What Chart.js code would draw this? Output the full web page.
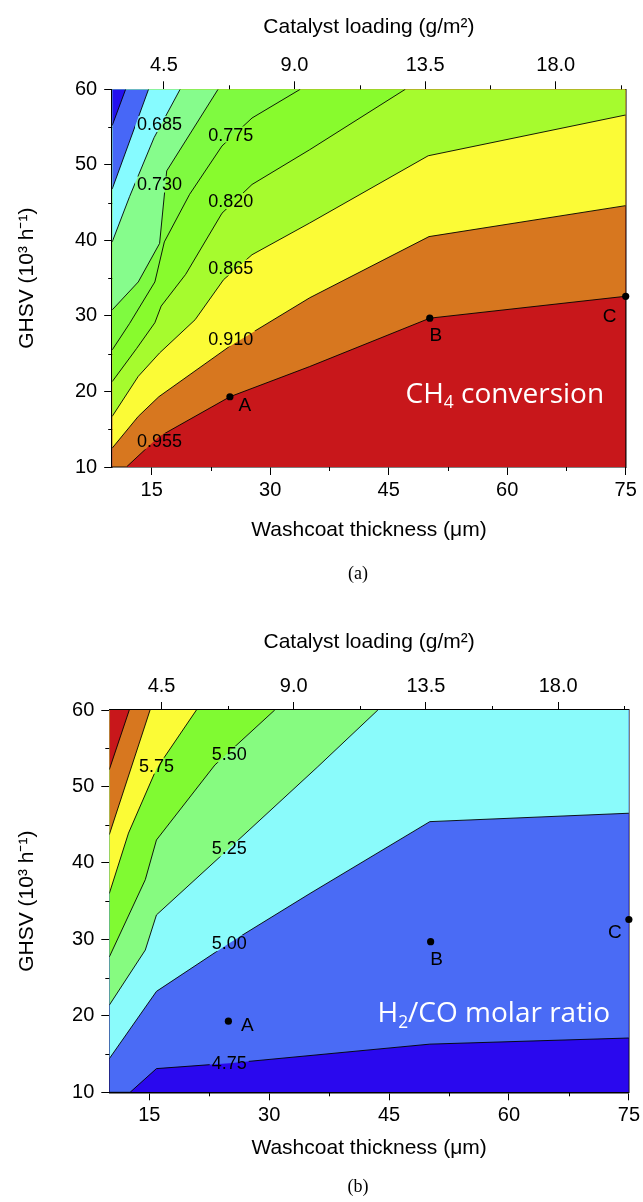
<!DOCTYPE html>
<html>
<head>
<meta charset="utf-8">
<title>Washcoat thickness vs GHSV contour maps</title>
<script src="https://cdn.jsdelivr.net/npm/chart.js@4.4.1/dist/chart.umd.min.js"></script>
<style>
    body { margin: 0; background: #fff; width: 643px; height: 1202px; position: relative; overflow: hidden; }
    canvas { position: absolute; left: 0; }
    #chartA { top: 0; }
    #chartB { top: 600px; }
    .caption { position: absolute; font: 18px "Liberation Serif", "Times New Roman", serif; color: #000; transform: translate(-50%, -50%); }
</style>
</head>
<body>
<canvas id="chartA" width="643" height="600"></canvas>
<canvas id="chartB" width="643" height="602"></canvas>
<div class="caption" style="left:358px; top:573px;">(a)</div>
<div class="caption" style="left:358px; top:1186px;">(b)</div>
<script>
// Axis ranges and ticks
const X_MIN = 10, X_MAX = 75;          // washcoat thickness (um)
const Y_MIN = 10, Y_MAX = 60;          // GHSV (10^3 h^-1)
const LOAD_MIN = 2.72, LOAD_MAX = 20.41; // catalyst loading (g/m2), top axis
const thicknessTicks = [15, 30, 45, 60, 75];
const thicknessMinor = [22.5, 37.5, 52.5, 67.5];
const loadingTicks = [4.5, 9.0, 13.5, 18.0];
const loadingMinor = [6.75, 11.25, 15.75, 20.25];
const ghsvTicks = [10, 20, 30, 40, 50, 60];
const ghsvMinor = [15, 25, 35, 45, 55];

// Operating points A, B, C [thickness, GHSV]
const pointNames = ['A', 'B', 'C'];
const pointValues = [[24.9, 19.3], [50.2, 29.7], [75, 32.6]];

// (a) CH4 conversion: contour lines from top-left to bottom-right [thickness, GHSV]
const ch4Line1 = [[10, 55.2], [11.7, 60]];
const ch4Line2 = [[10, 46.8], [14.6, 60]];
const ch4Line3 = [[10, 39.8], [12.2, 45.8], [15.3, 53.6], [18.6, 60]];
const ch4Line4 = [[10, 30.8], [13.3, 34.5], [16.0, 39.6], [16.9, 49.2], [23.4, 60]];
const ch4Line5 = [[10, 25.5], [12.2, 29.0], [15.4, 34.5], [16.6, 39.8], [19.8, 46.1], [23.9, 52.5], [27.7, 56.2], [33.8, 60]];
const ch4Line6 = [[10, 21.3], [13.1, 25.7], [15.4, 29.1], [16.2, 31.3], [19.3, 35.5], [23.9, 43.6], [27.7, 47.4], [35, 52.0], [47.1, 60]];
const ch4Line7 = [[10, 16.7], [13.3, 22.0], [16.0, 25.1], [20.5, 29.5], [24.1, 34.8], [27.7, 38.1], [35, 42.3], [50, 51.2], [75, 56.6]];
const ch4Line8 = [[10, 12.5], [13.3, 16.7], [15.9, 19.3], [24.9, 26.0], [35, 32.4], [50.1, 40.5], [75, 44.6]];
const ch4Line9 = [[10, 10], [11.8, 10], [15.9, 14.0], [24.9, 19.3], [35, 23.3], [50.2, 29.7], [75, 32.6]];
// region colours, top-left first, last one is the region below the last line
const ch4Colors = ['#2410ef', '#4767f7', '#86fbff', '#86fc8c', '#7ffa40', '#88fb2d', '#a6fb2e', '#fbfb36', '#d7771f', '#c8171b'];
const ch4Levels = ['0.685', '0.730', '0.775', '0.820', '0.865', '0.910', '0.955'];
const ch4LevelPos = [[16.0, 55.4], [16.0, 47.4], [25.0, 54.0], [25.0, 45.2], [25.0, 36.4], [25.0, 27.0], [16.0, 13.4]];

// (b) H2/CO molar ratio
const h2coLine1 = [[10, 52.2], [12.5, 60]];
const h2coLine2 = [[10, 43.7], [15.1, 60]];
const h2coLine3 = [[10, 36.0], [12.4, 43.9], [15.9, 52.3], [20.9, 60]];
const h2coLine4 = [[10, 27.7], [14.5, 37.8], [15.9, 43.0], [23.2, 52.8], [30.7, 60]];
const h2coLine5 = [[10, 21.4], [14.5, 28.6], [15.9, 33.2], [25.0, 41.9], [36.0, 52.5], [43.6, 60]];
const h2coLine6 = [[10, 14.4], [15.9, 23.2], [25.0, 29.5], [35.1, 36.0], [50.1, 45.4], [75, 46.5]];
const h2coLine7 = [[10, 10], [12.6, 10], [15.9, 13.1], [25.0, 13.8], [50.1, 16.3], [75, 17.1]];
const h2coColors = ['#c8171b', '#d7771f', '#fbfb36', '#80fa32', '#86fb80', '#8afbfb', '#4a6bf5', '#2a08ee'];
const h2coLevels = ['5.75', '5.50', '5.25', '5.00', '4.75'];
const h2coLevelPos = [[15.9, 52.7], [25.0, 54.2], [25.0, 41.9], [25.0, 29.5], [25.0, 13.8]];

const SANS = "'Liberation Sans', Arial, sans-serif";
const tickFont = { family: SANS, size: 20 };
const titleFont = { family: SANS, size: 21 };

// contour labels (with a gap cut into the lines), point letters, white note, minor ticks
const contourText = {
    id: 'contourText',
    beforeDatasetDraw(chart, args, opts) {
        if (!chart.data.datasets[args.index].contour) return;
        const ctx = chart.ctx;
        const xs = chart.scales.x, ys = chart.scales.y;
        ctx.save();
        ctx.font = '18px ' + SANS;
        ctx.beginPath();
        ctx.rect(0, 0, chart.width, chart.height);
        opts.levels.forEach((t, i) => {
            const w = ctx.measureText(t).width + 4;
            const cx = xs.getPixelForValue(opts.levelPos[i][0]);
            const cy = ys.getPixelForValue(opts.levelPos[i][1]);
            ctx.rect(cx - w / 2, cy - 8, w, 16);
        });
        ctx.clip('evenodd');
    },
    afterDatasetDraw(chart, args) {
        if (chart.data.datasets[args.index].contour) chart.ctx.restore();
    },
    afterDatasetsDraw(chart, args, opts) {
        const ctx = chart.ctx;
        const xs = chart.scales.x, ys = chart.scales.y;
        ctx.save();
        ctx.fillStyle = '#000';
        ctx.textAlign = 'center';
        ctx.textBaseline = 'middle';
        ctx.font = '18px ' + SANS;
        opts.levels.forEach((t, i) => {
            ctx.fillText(t, xs.getPixelForValue(opts.levelPos[i][0]), ys.getPixelForValue(opts.levelPos[i][1]) + 1);
        });
        ctx.font = '19px ' + SANS;
        pointNames.forEach((n, i) => {
            const off = opts.letterOffsets[i];
            ctx.fillText(n, xs.getPixelForValue(pointValues[i][0]) + off[0], ys.getPixelForValue(pointValues[i][1]) + off[1]);
        });
        // white annotation with a subscript
        const note = opts.note;
        const size = note.size;
        const widths = note.parts.map(p => {
            ctx.font = (p.sub ? size * 0.62 : size) + "px 'Open Sans', sans-serif";
            return ctx.measureText(p.t).width;
        });
        let x = xs.getPixelForValue(note.at[0]) - widths.reduce((a, b) => a + b, 0) / 2;
        const base = ys.getPixelForValue(note.at[1]);
        ctx.fillStyle = '#fff';
        ctx.textAlign = 'left';
        ctx.textBaseline = 'alphabetic';
        note.parts.forEach((p, i) => {
            ctx.font = (p.sub ? size * 0.62 : size) + "px 'Open Sans', sans-serif";
            ctx.fillText(p.t, x, base + (p.sub ? size * 0.2 : 0));
            x += widths[i];
        });
        ctx.restore();
    },
    afterDraw(chart) {
        const ctx = chart.ctx;
        const area = chart.chartArea;
        const xs = chart.scales.x, x2 = chart.scales.x2, ys = chart.scales.y;
        ctx.save();
        ctx.strokeStyle = '#000';
        ctx.lineWidth = 1;
        ctx.beginPath();
        thicknessMinor.forEach(v => {
            const px = Math.round(xs.getPixelForValue(v)) + 0.5;
            ctx.moveTo(px, area.bottom); ctx.lineTo(px, area.bottom + 4);
        });
        loadingMinor.forEach(v => {
            const px = Math.round(x2.getPixelForValue(v)) + 0.5;
            ctx.moveTo(px, area.top); ctx.lineTo(px, area.top - 4);
        });
        ghsvMinor.forEach(v => {
            const py = Math.round(ys.getPixelForValue(v)) + 0.5;
            ctx.moveTo(area.left, py); ctx.lineTo(area.left - 4, py);
        });
        ctx.stroke();
        ctx.restore();
    }
};

function buildChart(id, cfg) {
    const datasets = [];
    cfg.lines.forEach((line, i) => {
        datasets.push({
            data: line.map(p => ({ x: p[0], y: p[1] })),
            fill: 'end', backgroundColor: cfg.colors[i],
            borderColor: 'rgba(0,0,0,0)', borderWidth: 0, pointRadius: 0, order: i + 2
        });
        datasets.push({
            data: line.map(p => ({ x: p[0], y: p[1] })),
            fill: false, borderColor: '#000', borderWidth: 0.9, pointRadius: 0, order: 1, contour: true
        });
    });
    // lowest region fills the rest of the plot
    datasets.push({
        data: [{ x: X_MIN, y: Y_MIN }, { x: X_MAX, y: Y_MIN }],
        fill: 'end', backgroundColor: cfg.colors[cfg.lines.length],
        borderColor: 'rgba(0,0,0,0)', borderWidth: 0, pointRadius: 0, order: 50
    });
    datasets.push({
        data: pointValues.map(p => ({ x: p[0], y: p[1] })),
        showLine: false, pointRadius: 3.6, pointBackgroundColor: '#000', pointBorderWidth: 0,
        clip: false, order: 0
    });

    const axisGrid = { drawOnChartArea: false, tickLength: 8, tickColor: '#000', tickWidth: 1 };
    const axisBorder = { color: '#000', width: 1.5 };

    return new Chart(document.getElementById(id), {
        type: 'line',
        data: { datasets: datasets },
        options: {
            responsive: false,
            animation: false,
            events: [],
            layout: { padding: 0 },
            plugins: {
                legend: { display: false },
                tooltip: { enabled: false },
                contourText: {
                    levels: cfg.levels, levelPos: cfg.levelPos,
                    letterOffsets: cfg.letterOffsets, note: cfg.note
                }
            },
            scales: {
                x: {
                    type: 'linear', position: 'bottom', min: X_MIN, max: X_MAX,
                    afterBuildTicks: s => { s.ticks = thicknessTicks.map(v => ({ value: v })); },
                    afterFit: s => { s.height = cfg.bottomH; },
                    ticks: { font: tickFont, color: '#000', padding: 3, maxRotation: 0, autoSkip: false },
                    grid: axisGrid, border: axisBorder,
                    title: { display: true, text: 'Washcoat thickness (μm)', font: titleFont, color: '#000', padding: { top: 0, bottom: cfg.xTitlePad } }
                },
                x2: {
                    type: 'linear', position: 'top', min: LOAD_MIN, max: LOAD_MAX,
                    afterBuildTicks: s => { s.ticks = loadingTicks.map(v => ({ value: v })); },
                    afterFit: s => { s.height = cfg.topH; },
                    ticks: { font: tickFont, color: '#000', padding: 4, maxRotation: 0, autoSkip: false, callback: v => Number(v).toFixed(1) },
                    grid: axisGrid, border: axisBorder,
                    title: { display: true, text: 'Catalyst loading (g/m²)', font: titleFont, color: '#000', padding: { top: cfg.topTitlePad, bottom: 0 } }
                },
                y: {
                    type: 'linear', position: 'left', min: Y_MIN, max: Y_MAX,
                    afterBuildTicks: s => { s.ticks = ghsvTicks.map(v => ({ value: v })); },
                    afterFit: s => { s.width = cfg.leftW; },
                    ticks: { font: tickFont, color: '#000', padding: 7, autoSkip: false },
                    grid: axisGrid, border: axisBorder,
                    title: { display: true, text: 'GHSV (10³ h⁻¹)', font: titleFont, color: '#000', padding: { top: 15, bottom: 0 } }
                },
                yR: {
                    type: 'linear', position: 'right', min: Y_MIN, max: Y_MAX,
                    afterFit: s => { s.width = cfg.rightW; },
                    ticks: { display: false },
                    grid: { drawOnChartArea: false, drawTicks: false },
                    border: axisBorder
                }
            }
        },
        plugins: [contourText]
    });
}

buildChart('chartA', {
    lines: [ch4Line1, ch4Line2, ch4Line3, ch4Line4, ch4Line5, ch4Line6, ch4Line7, ch4Line8, ch4Line9],
    colors: ch4Colors, levels: ch4Levels, levelPos: ch4LevelPos,
    letterOffsets: [[15, 9], [6, 18], [-16, 20]],
    note: { at: [59.7, 18.5], size: 28, parts: [{ t: 'CH' }, { t: '4', sub: true }, { t: ' conversion' }] },
    leftW: 112.2, rightW: 17.3, topH: 89.3, bottomH: 133, xTitlePad: 57.4, topTitlePad: 14.4
});

buildChart('chartB', {
    lines: [h2coLine1, h2coLine2, h2coLine3, h2coLine4, h2coLine5, h2coLine6, h2coLine7],
    colors: h2coColors, levels: h2coLevels, levelPos: h2coLevelPos,
    letterOffsets: [[19, 5], [6, 18], [-14, 13]],
    note: { at: [58.1, 19.2], size: 28, parts: [{ t: 'H' }, { t: '2', sub: true }, { t: '/CO molar ratio' }] },
    leftW: 109.3, rightW: 13.7, topH: 110, bottomH: 109.7, xTitlePad: 41.4, topTitlePad: 29.4
});
</script>
</body>
</html>
